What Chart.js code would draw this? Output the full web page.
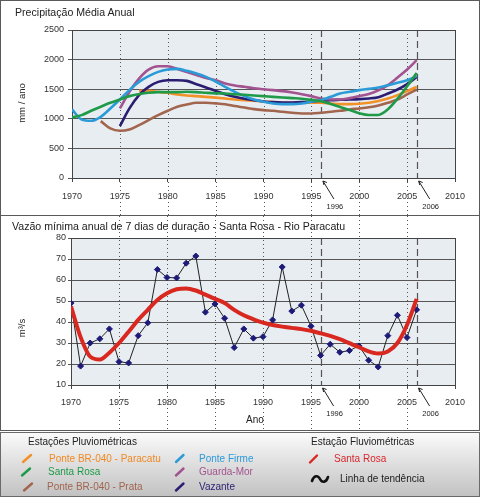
<!DOCTYPE html>
<html lang="pt">
<head>
<meta charset="utf-8">
<script src="https://cdn.jsdelivr.net/npm/chart.js@4.4.1/dist/chart.umd.min.js"></script>
<style>
  body { margin: 0; background: #fff; font-family: "Liberation Sans", Arial, sans-serif; }
  #fig { position: relative; width: 480px; height: 497px; overflow: hidden; }
  .painel { position: absolute; left: 0; width: 480px; box-sizing: border-box; border: 1px solid #5a5a5a; }
  canvas { position: absolute; left: 0; }
  .txt { position: absolute; white-space: nowrap; color: #222; line-height: 1; transform: translateY(-50%); }
  .rot { transform: translate(-50%, -50%) rotate(-90deg); }
  .cen { transform: translate(-50%, -50%); }
  #legenda { position: absolute; left: 0; top: 432px; width: 480px; height: 65px; box-sizing: border-box;
    border: 1px solid #6a6a6a; background: linear-gradient(#fafafa, #c2c2c2); }
  #legenda .txt { font-size: 10px; }
</style>
</head>
<body>
<div id="fig">
  <div class="painel" style="top:0;height:216px"></div>
  <div class="painel" style="top:215px;height:216px"></div>

  <canvas id="precip" width="480" height="215" style="top:0"></canvas>
  <canvas id="vazao" width="480" height="214" style="top:216px"></canvas>

  <div class="txt" style="left:15px;top:12px;font-size:10.6px">Precipitação Média Anual</div>
  <div class="txt rot" style="left:22px;top:103px;font-size:9.5px">mm / ano</div>
  <div class="txt" style="left:12px;top:226px;font-size:10.6px">Vazão mínima anual de 7 dias de duração - Santa Rosa - Rio Paracatu</div>
  <div class="txt rot" style="left:22px;top:328px;font-size:9.5px">m³/s</div>
  <div class="txt cen" style="left:255px;top:420px;font-size:10px">Ano</div>

  <div id="legenda">
    <svg width="480" height="65" style="position:absolute;left:0;top:0" stroke-linecap="round" fill="none" stroke-width="2.4">
      <line x1="22" y1="29" x2="30" y2="22" stroke="#f29128"/>
      <line x1="21" y1="42.5" x2="29" y2="35.5" stroke="#1f9a48"/>
      <line x1="23" y1="57.5" x2="31" y2="50.5" stroke="#a2654e"/>
      <line x1="175" y1="29" x2="182.5" y2="22" stroke="#2b9bd8"/>
      <line x1="175" y1="42.5" x2="182.5" y2="35.5" stroke="#a3538f"/>
      <line x1="175" y1="57.5" x2="182.5" y2="50.5" stroke="#2b1e72"/>
      <line x1="309" y1="29.5" x2="316" y2="22.5" stroke="#d8281f"/>
      <path d="M311 48 C313 42 317 42 319 46 S325 50 327 44" stroke="#111" stroke-width="2.6"/>
    </svg>
    <div class="txt" style="left:27px;top:9px;color:#222">Estações Pluviométricas</div>
    <div class="txt" style="left:48px;top:26px;color:#f08a24">Ponte BR-040 - Paracatu</div>
    <div class="txt" style="left:47px;top:39px;color:#1f9a48">Santa Rosa</div>
    <div class="txt" style="left:46px;top:54px;color:#a2654e">Ponte BR-040 - Prata</div>
    <div class="txt" style="left:198px;top:26px;color:#2b9bd8">Ponte Firme</div>
    <div class="txt" style="left:198px;top:39px;color:#a3538f">Guarda-Mor</div>
    <div class="txt" style="left:198px;top:54px;color:#2b1e72">Vazante</div>
    <div class="txt" style="left:310px;top:9px;color:#222">Estação Fluviométricas</div>
    <div class="txt" style="left:333px;top:26px;color:#d8282f">Santa Rosa</div>
    <div class="txt" style="left:339px;top:46px;color:#222">Linha de tendência</div>
  </div>
</div>

<script>
// anos da série (1970 - 2006)
const anos = [1970, 1971, 1972, 1973, 1974, 1975, 1976, 1977, 1978, 1979,
  1980, 1981, 1982, 1983, 1984, 1985, 1986, 1987, 1988, 1989,
  1990, 1991, 1992, 1993, 1994, 1995, 1996, 1997, 1998, 1999,
  2000, 2001, 2002, 2003, 2004, 2005, 2006];

// precipitação média anual (mm/ano) - curvas suavizadas por estação
const santaRosa = [1023, 1062, 1135, 1203, 1270, 1326, 1383, 1416, 1439, 1450,
  1450, 1450, 1456, 1450, 1439, 1430, 1427, 1416, 1405, 1394,
  1383, 1371, 1360, 1350, 1340, 1320, 1295, 1250, 1200, 1150,
  1095, 1065, 1065, 1160, 1340, 1550, 1775];
const ponteFirme = [1158, 989, 967, 1034, 1175, 1326, 1484, 1624, 1720, 1793,
  1832, 1843, 1810, 1765, 1708, 1630, 1540, 1456, 1383, 1326,
  1287, 1259, 1248, 1248, 1259, 1287, 1315, 1371, 1427, 1456,
  1484, 1506, 1529, 1568, 1607, 1652, 1720];
const guardaMor = [null, null, null, null, null, 1175, 1456, 1680, 1832, 1888,
  1888, 1843, 1790, 1740, 1690, 1650, 1596, 1562, 1540, 1517,
  1500, 1484, 1467, 1444, 1416, 1383, 1343, 1326, 1326, 1349,
  1383, 1420, 1480, 1570, 1697, 1832, 1990];
const vazante = [null, null, null, null, null, 877, 1175, 1400, 1540, 1624,
  1652, 1652, 1641, 1585, 1529, 1470, 1416, 1371, 1338, 1315,
  1293, 1281, 1276, 1276, 1281, 1293, 1304, 1315, 1321, 1326,
  1332, 1343, 1365, 1427, 1495, 1585, 1708];
const ponteParacatu = [null, null, null, null, null, null, null, 1472, 1472, 1456,
  1439, 1411, 1394, 1383, 1371, 1358, 1343, 1326, 1315, 1304,
  1293, 1281, 1270, 1270, 1270, 1270, 1270, 1259, 1248, 1248,
  1253, 1270, 1300, 1343, 1400, 1467, 1540];
const pontePrata = [null, null, null, 961, 837, 798, 820, 894, 978, 1062,
  1135, 1203, 1242, 1270, 1270, 1260, 1245, 1215, 1190, 1163,
  1146, 1135, 1118, 1102, 1090, 1090, 1102, 1118, 1135, 1158,
  1175, 1195, 1225, 1270, 1326, 1411, 1495];

// vazão mínima de 7 dias - Santa Rosa (m³/s)
const vazaoMinima = [49, 19, 30, 32, 36.7, 21.1, 20.5, 33.5, 39.6, 65,
  61.2, 61, 68, 71.4, 44.7, 48.6, 41.8, 27.8, 36.7, 32.3,
  33, 41, 66.2, 45.2, 48, 38, 24.1, 29.4, 25.6, 26.4,
  28.6, 21.8, 18.6, 33.5, 43.2, 32.6, 45.8];
const tendencia = [47.5, 32.8, 23.5, 22.1, 25.4, 30, 35.4, 41, 45.8, 50.5,
  53.7, 55.6, 56, 55, 53, 51, 49, 45.8, 43.2, 41.3,
  39.7, 38.6, 37.8, 37.2, 36.6, 35.8, 34.6, 33.4, 31.8, 29.9,
  28, 26, 25, 26, 30, 38.6, 51];

const anosPontilhados = [1975, 1980, 1985, 1990, 1995, 2000, 2005];
const anosMarcados = [1996, 2006];

const pontos = (vals) => anos.map((a, i) => ({ x: a, y: vals[i] })).filter(p => p.y !== null);

const fonteEixo = { family: '"Liberation Sans", Arial, sans-serif', size: 9 };

// fundo, linhas verticais pontilhadas, marcos tracejados e setas
const guias = {
  id: 'guias',
  beforeDraw(chart) {
    const { ctx, chartArea: a } = chart;
    ctx.save();
    ctx.fillStyle = '#e8edf2';
    ctx.fillRect(a.left, a.top, a.right - a.left, a.bottom - a.top);
    ctx.restore();
  },
  beforeDatasetsDraw(chart, args, opts) {
    const { ctx, chartArea: a, scales: { x } } = chart;
    ctx.save();
    ctx.strokeStyle = '#555';
    ctx.lineWidth = 1;
    ctx.setLineDash([1, 3]);
    for (const ano of anosPontilhados) {
      const px = Math.round(x.getPixelForValue(ano)) + 0.5;
      ctx.beginPath();
      ctx.moveTo(px, opts.doTopo ? a.top : 0);
      ctx.lineTo(px, chart.height);
      ctx.stroke();
    }
    ctx.setLineDash([7, 4]);
    ctx.lineWidth = 1.2;
    ctx.strokeStyle = '#555';
    for (const ano of anosMarcados) {
      const px = Math.round(x.getPixelForValue(ano)) + 0.5;
      ctx.beginPath();
      ctx.moveTo(px, a.top);
      ctx.lineTo(px, a.bottom);
      ctx.stroke();
    }
    ctx.setLineDash([]);
    ctx.lineWidth = 1;
    ctx.strokeStyle = '#444';
    ctx.strokeRect(a.left + 0.5, a.top + 0.5, a.right - a.left, a.bottom - a.top);
    ctx.restore();
  },
  afterDraw(chart) {
    const { ctx, chartArea: a, scales: { x } } = chart;
    ctx.save();
    ctx.strokeStyle = '#222';
    ctx.fillStyle = '#222';
    ctx.lineWidth = 1;
    ctx.font = '7.5px "Liberation Sans", Arial, sans-serif';
    ctx.textAlign = 'center';
    ctx.textBaseline = 'middle';
    for (const ano of anosMarcados) {
      const px = x.getPixelForValue(ano);
      const tx = px + 2, ty = a.bottom + 3;
      ctx.beginPath();
      ctx.moveTo(px + 13, a.bottom + 21);
      ctx.lineTo(tx, ty);
      ctx.moveTo(tx, ty);
      ctx.lineTo(tx + 1, ty + 4);
      ctx.moveTo(tx, ty);
      ctx.lineTo(tx + 4, ty + 1.5);
      ctx.stroke();
      ctx.fillText(String(ano), px + 14, a.bottom + 28.5);
    }
    ctx.restore();
  }
};

const escalaX = (altura, pad) => ({
  type: 'linear', min: 1970, max: 2010,
  ticks: { stepSize: 5, callback: v => String(v), font: fonteEixo, color: '#333', padding: pad, maxRotation: 0 },
  grid: { drawOnChartArea: false, tickLength: 4, color: '#444' },
  border: { color: '#444' },
  afterFit(s) { s.height = altura; }
});

const linha = (rotulo, vals, cor) => ({
  label: rotulo, data: pontos(vals), borderColor: cor, borderWidth: 2.6,
  pointRadius: 0, cubicInterpolationMode: 'monotone', fill: false
});

new Chart(document.getElementById('precip'), {
  type: 'line',
  data: {
    datasets: [
      linha('Santa Rosa', santaRosa, '#1f9a48'),
      linha('Ponte Firme', ponteFirme, '#2b9bd8'),
      linha('Guarda-Mor', guardaMor, '#a3538f'),
      linha('Vazante', vazante, '#2b1e72'),
      linha('Ponte BR-040 - Paracatu', ponteParacatu, '#f29128'),
      linha('Ponte BR-040 - Prata', pontePrata, '#a2654e')
    ]
  },
  options: {
    responsive: false,
    animation: false,
    layout: { padding: { left: 0, right: 25, top: 30, bottom: 0 } },
    plugins: { legend: { display: false }, tooltip: { enabled: false }, guias: { doTopo: true } },
    scales: {
      x: escalaX(37, 9),
      y: {
        min: 0, max: 2500,
        ticks: { stepSize: 500, callback: v => String(v), font: fonteEixo, color: '#333', padding: 4 },
        grid: { color: '#555', tickLength: 4 },
        border: { color: '#444' },
        afterFit(s) { s.width = 72; }
      }
    }
  },
  plugins: [guias]
});

new Chart(document.getElementById('vazao'), {
  type: 'line',
  data: {
    datasets: [
      {
        label: 'Linha de tendência', data: pontos(tendencia), borderColor: '#d8281f', borderWidth: 4,
        pointRadius: 0, cubicInterpolationMode: 'monotone', fill: false
      },
      {
        label: 'Santa Rosa', data: pontos(vazaoMinima), borderColor: '#222', borderWidth: 1,
        pointStyle: 'rectRot', pointRadius: 3, pointBackgroundColor: '#1d1a78', pointBorderColor: '#1d1a78',
        tension: 0, fill: false
      }
    ]
  },
  options: {
    responsive: false,
    animation: false,
    layout: { padding: { left: 0, right: 25, top: 22, bottom: 0 } },
    plugins: { legend: { display: false }, tooltip: { enabled: false }, guias: { doTopo: false } },
    scales: {
      x: escalaX(45, 8),
      y: {
        min: 10, max: 80,
        ticks: { stepSize: 10, callback: v => String(v), font: fonteEixo, color: '#333', padding: 2 },
        grid: { color: '#555', tickLength: 3 },
        border: { color: '#444' },
        afterFit(s) { s.width = 71; }
      }
    }
  },
  plugins: [guias]
});
</script>
</body>
</html>
